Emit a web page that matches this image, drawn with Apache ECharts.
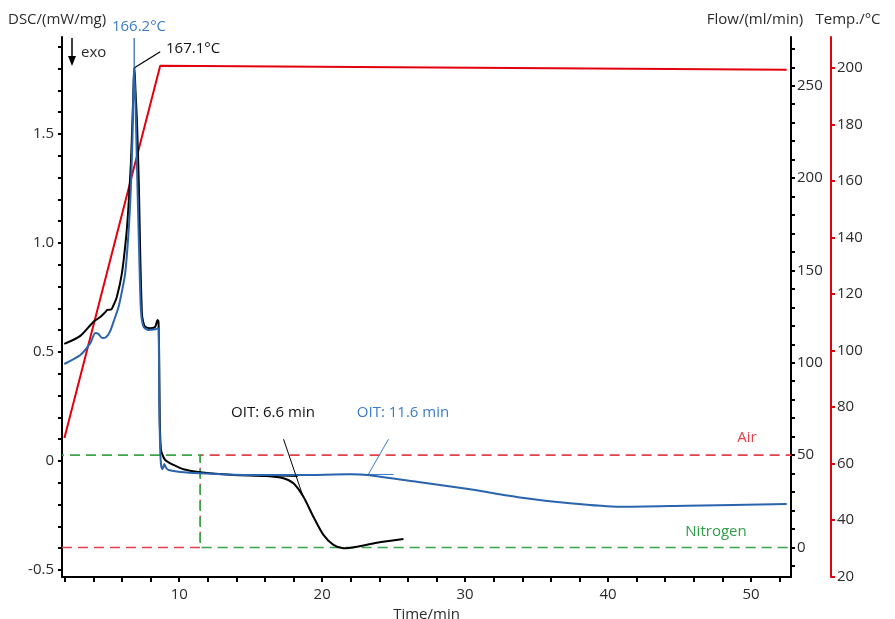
<!DOCTYPE html>
<html><head><meta charset="utf-8">
<script src="https://cdn.jsdelivr.net/npm/echarts@6/dist/echarts.min.js"></script>
<style>html,body{margin:0;padding:0;background:#fff}#c{width:895px;height:619px}</style>
</head><body><div id="c"></div>
<script>
// ---- data (time in min) ----
const timeTickValues = [2,4,6,8,10,12,14,16,18,20,22,24,26,28,30,32,34,36,38,40,42,44,46,48,50,52];
const timeLabelValues = [10,20,30,40,50];
const dscTickValues = [-0.5,-0.4,-0.3,-0.2,-0.1,0,0.1,0.2,0.3,0.4,0.5,0.6,0.7,0.8,0.9,1.0,1.1,1.2,1.3,1.4,1.5,1.6,1.7,1.8,1.9];
const dscLabelValues = [-0.5,0,0.5,1.0,1.5];
const flowTickValues = [-10,0,10,20,30,40,50,60,70,80,90,100,110,120,130,140,150,160,170,180,190,200,210,220,230,240,250,260,270];
const flowLabelValues = [0,50,100,150,200,250];
const tempTickValues = [20,40,60,80,100,120,140,160,180,200];

const blackDSC = [[1.96,0.537],[3.08,0.574],[3.99,0.638],[4.48,0.661],[4.83,0.683],[4.97,0.693],[5.24,0.695],[5.38,0.711],[5.64,0.754],[5.99,0.861],[6.29,1.029],[6.45,1.167],[6.62,1.366],[6.73,1.564],[6.83,1.76],[6.87,1.804],[6.94,1.70],[7.04,1.564],[7.18,1.258],[7.27,0.953],[7.39,0.678],[7.48,0.638],[7.62,0.616],[7.97,0.609],[8.32,0.616],[8.48,0.647],[8.55,0.640],[8.60,0.463],[8.64,0.188],[8.71,0.060],[8.79,0.035],[9.02,0.005],[9.60,-0.018],[10.30,-0.038],[11.47,-0.052],[13.80,-0.064],[16.13,-0.069],[17.29,-0.079],[17.99,-0.102],[18.69,-0.164],[19.39,-0.256],[20.09,-0.339],[20.79,-0.385],[21.49,-0.400],[22.43,-0.393],[23.83,-0.375],[25.69,-0.358]];
const blueDSC = [[1.96,0.445],[3.08,0.486],[3.78,0.541],[4.13,0.587],[4.34,0.583],[4.62,0.564],[4.90,0.569],[5.17,0.596],[5.45,0.647],[5.76,0.708],[6.01,0.784],[6.22,0.861],[6.45,1.044],[6.62,1.258],[6.73,1.488],[6.81,1.748],[6.85,1.803],[6.97,1.564],[7.08,1.258],[7.20,0.953],[7.32,0.693],[7.50,0.616],[7.85,0.601],[8.32,0.604],[8.51,0.609],[8.57,0.601],[8.60,0.280],[8.67,0.050],[8.74,-0.023],[8.83,-0.038],[8.95,-0.014],[9.09,-0.032],[9.25,-0.041],[10.07,-0.050],[11.47,-0.056],[14.97,-0.064],[18.46,-0.064],[21.96,-0.061],[23.13,-0.064],[26.62,-0.095],[30.35,-0.130],[33.85,-0.167],[37.34,-0.194],[40.84,-0.210],[45.50,-0.205],[52.50,-0.197]];
const tempProgram = [[1.97,69.0],[8.67,200.8],[52.5,199.4]];
const airFlow = [[1.8,0],[11.47,0],[11.47,50],[52.8,50]];
const nitrogenFlow = [[1.8,50],[11.47,50],[11.47,0],[52.8,0]];

const peakLeaderBlack = [[6.87,1.804],[8.67,1.877]];
const peakLeaderBlue = [[6.85,1.80],[6.85,1.94]];
const oitTangentBlack = [[17.30,0.10],[18.65,-0.16]];
const oitBaselineBlack = [[16.5,-0.068],[18.3,-0.071]];
const oitLeaderBlue = [[24.64,0.10],[23.24,-0.060]];
const oitBaselineBlue = [[21.3,-0.061],[25.0,-0.062]];

// ---- styles ----
const FONT = '"Open Sans", "Noto Sans", sans-serif';
const FS = 15;
const TXT = '#2b2b2b';
const BLUE = '#2a64ad', BLUE_T = '#3d7cc7', RED = '#e3000f', RED_D = '#e5404a', GREEN = '#3aa44c', GREEN_T = '#2f9e46';

const chart = echarts.init(document.getElementById('c'), null, {renderer:'canvas'});
function ln(data, color, width, y, extra) {
  return Object.assign({type:'line', data:data, yAxisIndex:y, showSymbol:false, symbol:'none', silent:true,
    lineStyle:{color:color, width:width}, animation:false}, extra||{});
}
const labStyle = {color:TXT, fontSize:FS, fontFamily:FONT};
function txt(text, x, y, align, color) {
  return {type:'text', silent:true, style:{text:text, x:x, y:y, align:align, verticalAlign:'middle', fill:color||TXT, font:FS + 'px ' + FONT}};
}
chart.setOption({
  animation:false,
  backgroundColor:'#fff',
  grid:{left:62, right:104, top:37, bottom:42, containLabel:false, outerBoundsMode:'none'},
  xAxis:{type:'value', min:1.8, max:52.8,
    name:'Time/min', nameLocation:'middle', nameGap:29, nameTextStyle:labStyle,
    axisLine:{onZero:false, lineStyle:{color:'#000', width:2}},
    axisTick:{customValues:timeTickValues, length:5, lineStyle:{color:'#000', width:2}},
    axisLabel:Object.assign({customValues:timeLabelValues, margin:10}, labStyle),
    splitLine:{show:false}},
  yAxis:[
    {type:'value', position:'left', min:-0.532, max:1.945,
      axisLine:{show:true, onZero:false, lineStyle:{color:'#000', width:2}},
      axisTick:{show:true, customValues:dscTickValues, length:4, lineStyle:{color:'#000', width:2}},
      axisLabel:Object.assign({customValues:dscLabelValues, margin:8, formatter:v => (Math.abs(v)<1e-9 ? '0' : v.toFixed(1))}, labStyle),
      splitLine:{show:false}},
    {type:'value', position:'right', offset:0, min:-16.0, max:276.4,
      axisLine:{show:true, onZero:false, lineStyle:{color:'#000', width:2}},
      axisTick:{show:true, customValues:flowTickValues, length:4, lineStyle:{color:'#000', width:2}},
      axisLabel:Object.assign({customValues:flowLabelValues, margin:6}, labStyle),
      splitLine:{show:false}},
    {type:'value', position:'right', offset:40, min:19.8, max:211,
      axisLine:{show:true, onZero:false, lineStyle:{color:RED, width:2}},
      axisTick:{show:true, customValues:tempTickValues, length:4, lineStyle:{color:RED, width:2}},
      axisLabel:Object.assign({customValues:tempTickValues, margin:6}, labStyle),
      splitLine:{show:false}}
  ],
  series:[
    ln(airFlow, RED_D, 1.5, 1, {lineStyle:{color:RED_D, width:1.6, type:[10,6]}, z:1}),
    ln(nitrogenFlow, GREEN, 1.5, 1, {lineStyle:{color:GREEN, width:1.6, type:[10,6], dashOffset:8}, z:1}),
    ln(tempProgram, RED, 2, 2, {z:2}),
    ln(oitBaselineBlack, '#000', 1, 0, {z:3}),
    ln(oitBaselineBlue, BLUE_T, 1, 0, {z:3}),
    ln(blackDSC, '#000', 2, 0, {smooth:0.25, z:4}),
    ln(blueDSC, BLUE, 2, 0, {smooth:0.25, z:5}),
    ln(peakLeaderBlack, '#000', 1.2, 0, {z:6}),
    ln(peakLeaderBlue, BLUE, 1.2, 0, {z:6}),
    ln(oitTangentBlack, '#000', 1, 0, {z:6}),
    ln(oitLeaderBlue, BLUE_T, 1, 0, {z:6})
  ],
  graphic:[
    txt('DSC/(mW/mg)', 8, 20, 'left'),
    txt('166.2°C', 139, 27, 'center', BLUE_T),
    txt('167.1°C', 166, 49, 'left', '#111'),
    txt('exo', 81, 53, 'left'),
    txt('Flow/(ml/min)', 755, 20, 'center'),
    txt('Temp./°C', 848, 20, 'center'),
    txt('OIT: 6.6 min', 273, 413, 'center', '#111'),
    txt('OIT: 11.6 min', 403, 413, 'center', BLUE_T),
    txt('Air', 747, 438, 'center', RED_D),
    txt('Nitrogen', 716, 532, 'center', GREEN_T),
    {type:'line', silent:true, shape:{x1:72, y1:38, x2:72, y2:58}, style:{stroke:'#000', lineWidth:1.5}},
    {type:'polygon', silent:true, shape:{points:[[68,56],[76,56],[72,66]]}, style:{fill:'#000'}}
  ]
});
</script>
</body></html>
